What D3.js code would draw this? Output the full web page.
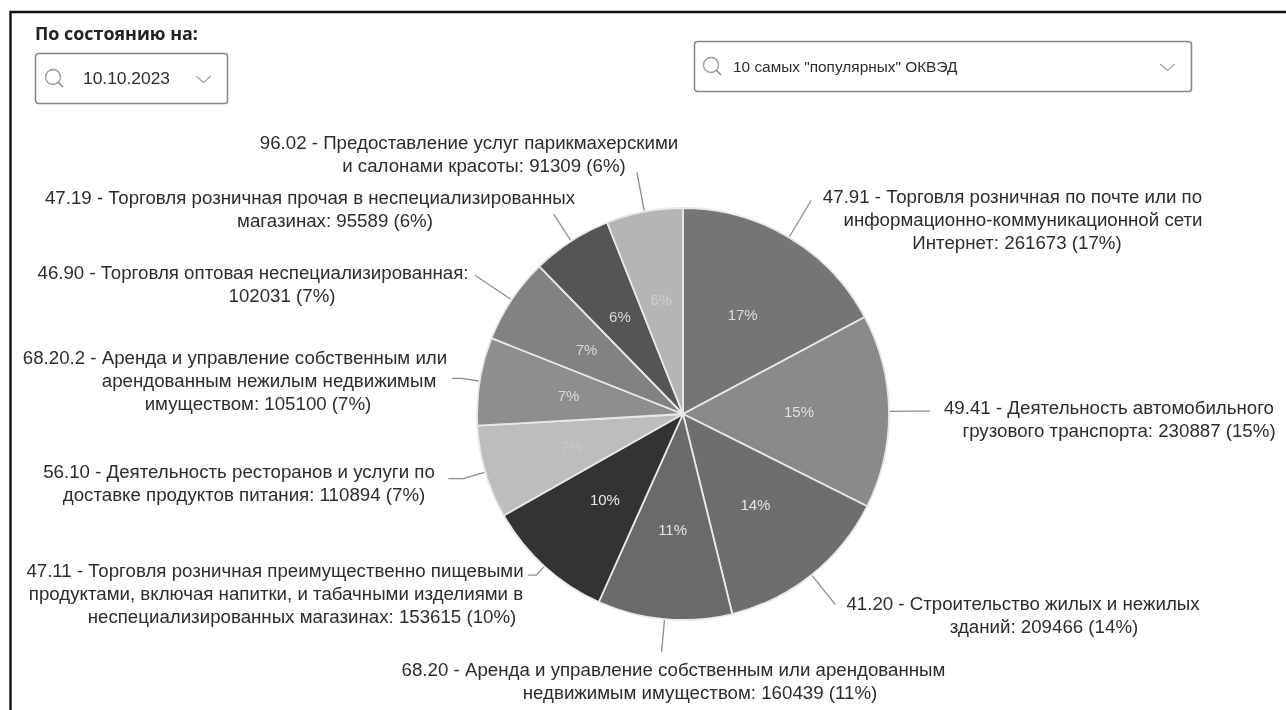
<!DOCTYPE html>
<html>
<head>
<meta charset="utf-8">
<script src="https://d3js.org/d3.v7.min.js"></script>
<style>
  html, body { margin: 0; padding: 0; background: #fff; }
  /* the reference is a soft, blurry screenshot */
  svg { display: block; filter: blur(0.55px); }
  text { font-family: "Liberation Sans", Arial, sans-serif; }
</style>
</head>
<body>
<svg id="chart" width="1286" height="710"></svg>
<script>
// data
const codes = ["47.91", "49.41", "41.20", "68.20", "47.11", "56.10", "68.20.2", "46.90", "47.19", "96.02"];
const values = [261673, 230887, 209466, 160439, 153615, 110894, 105100, 102031, 95589, 91309];
const percents = ["17%", "15%", "14%", "11%", "10%", "7%", "7%", "7%", "6%", "6%"];
const labelLines = [
  ["47.91 - Торговля розничная по почте или по", "информационно-коммуникационной сети", "Интернет: 261673 (17%)"],
  ["49.41 - Деятельность автомобильного", "грузового транспорта: 230887 (15%)"],
  ["41.20 - Строительство жилых и нежилых", "зданий: 209466 (14%)"],
  ["68.20 - Аренда и управление собственным или арендованным", "недвижимым имуществом: 160439 (11%)"],
  ["47.11 - Торговля розничная преимущественно пищевыми", "продуктами, включая напитки, и табачными изделиями в", "неспециализированных магазинах: 153615 (10%)"],
  ["56.10 - Деятельность ресторанов и услуги по", "доставке продуктов питания: 110894 (7%)"],
  ["68.20.2 - Аренда и управление собственным или", "арендованным нежилым недвижимым", "имуществом: 105100 (7%)"],
  ["46.90 - Торговля оптовая неспециализированная:", "102031 (7%)"],
  ["47.19 - Торговля розничная прочая в неспециализированных", "магазинах: 95589 (6%)"],
  ["96.02 - Предоставление услуг парикмахерскими", "и салонами красоты: 91309 (6%)"]
];
const sliceColors = ["#757575", "#8a8a8a", "#6e6e6e", "#6a6a6a", "#333333", "#bdbdbd", "#8e8e8e", "#828282", "#555555", "#b5b5b5"];
const percentColors = ["#dcdcdc", "#e0e0e0", "#e4e4e4", "#e4e4e4", "#e8e8e8", "#c8c8c8", "#d8d8d8", "#d8d8d8", "#d8d8d8", "#cecece"];

// label placement, same order as codes: centre x of each line, y of first baseline
const labelX = [
  [1012.5, 1023, 1017], [1109, 1119], [1023, 1044], [673.5, 700],
  [275, 276, 302], [239, 244], [235, 269, 258], [253, 282], [310, 335], [469, 484]
];
const labelY = [203, 414, 610, 676, 577, 478, 364, 279, 204, 149];
// leader line: radial length past the edge, then horizontal tail
const leaderLen = [43, 22, 38, 33, 12, 23, 18, 44, 32, 40];
const leaderTail = [0, 19, 0, 0, 8, 15, 10, 0, 0, 0];

const cx = 683, cy = 414, radius = 206;
const lineStep = 23.2;

const svg = d3.select("#chart");

// page frame (top and left only, the screenshot is cropped)
svg.append("path")
  .attr("d", "M10.5,710 V12 H1286")
  .attr("fill", "none")
  .attr("stroke", "#111")
  .attr("stroke-width", 2.4);

// filter controls
svg.append("text")
  .attr("x", 35).attr("y", 40)
  .attr("font-size", 17.9).attr("font-weight", 700).attr("fill", "#222")
  .style("font-family", "'Open Sans', sans-serif")
  .text("По состоянию на:");

function selectBox(x, y, w, h, label, iconX, textX, textSize) {
  const g = svg.append("g").attr("transform", `translate(${x},${y})`);
  g.append("rect")
    .attr("x", 0.5).attr("y", 0.5)
    .attr("width", w).attr("height", h).attr("rx", 3)
    .attr("fill", "#fff").attr("stroke", "#858585").attr("stroke-width", 1.5);
  g.append("circle")
    .attr("cx", iconX).attr("cy", h / 2 - 1).attr("r", 7.5)
    .attr("fill", "none").attr("stroke", "#9c9c9c").attr("stroke-width", 1.4);
  g.append("line")
    .attr("x1", iconX + 5).attr("y1", h / 2 + 4).attr("x2", iconX + 10).attr("y2", h / 2 + 9)
    .attr("stroke", "#808080").attr("stroke-width", 1.4);
  g.append("text")
    .attr("x", textX).attr("y", h / 2 + 6)
    .attr("font-size", textSize).attr("fill", "#2c2c2c")
    .text(label);
  g.append("path")
    .attr("d", `M${w - 31},${h / 2 - 2} l7.5,6.5 l7.5,-6.5`)
    .attr("fill", "none").attr("stroke", "#a6a6a6").attr("stroke-width", 1.3);
}
selectBox(35, 53, 192, 50, "10.10.2023", 18, 48, 17.4);
selectBox(694, 41, 497, 50, "10 самых \"популярных\" ОКВЭД", 17, 39, 15.4);

// pie
const pie = d3.pie().sort(null).value(d => d);
const arcs = pie(values);
const arc = d3.arc().innerRadius(0).outerRadius(radius);
const labelArc = d3.arc().innerRadius(116).outerRadius(116);
const edgeArc = d3.arc().innerRadius(radius + 1).outerRadius(radius + 1);

const plot = svg.append("g").attr("transform", `translate(${cx},${cy})`);

plot.selectAll("path.slice")
  .data(arcs)
  .join("path")
  .attr("class", "slice")
  .attr("d", arc)
  .attr("fill", (d, i) => sliceColors[i])
  .attr("stroke", "#e8e8e8")
  .attr("stroke-width", 1.8)
  .attr("stroke-linejoin", "round");

plot.selectAll("text.pct")
  .data(arcs)
  .join("text")
  .attr("class", "pct")
  .attr("transform", d => `translate(${labelArc.centroid(d)})`)
  .attr("text-anchor", "middle")
  .attr("dy", 5)
  .attr("font-size", 15)
  .attr("fill", (d, i) => percentColors[i])
  .text((d, i) => percents[i]);

// leader lines
const leader = d3.line();
plot.selectAll("path.leader")
  .data(arcs)
  .join("path")
  .attr("class", "leader")
  .attr("fill", "none")
  .attr("stroke", "#8c8c8c")
  .attr("stroke-width", 1.3)
  .attr("d", (d, i) => {
    const start = edgeArc.centroid(d);
    const r = radius + leaderLen[i];
    const elbow = d3.arc().innerRadius(r).outerRadius(r).centroid(d);
    const side = elbow[0] >= 0 ? 1 : -1;
    return leader([start, elbow, [elbow[0] + side * leaderTail[i], elbow[1]]]);
  });

// outer labels
const labels = svg.selectAll("g.label")
  .data(codes)
  .join("g")
  .attr("class", "label");

labels.selectAll("text")
  .data((d, i) => labelLines[i].map((t, j) => ({ t, x: labelX[i][j], y: labelY[i] + j * lineStep })))
  .join("text")
  .attr("x", d => d.x)
  .attr("y", d => d.y)
  .attr("text-anchor", "middle")
  .attr("font-size", 18.7)
  .attr("fill", "#2c2c2c")
  .text(d => d.t);
</script>
</body>
</html>
